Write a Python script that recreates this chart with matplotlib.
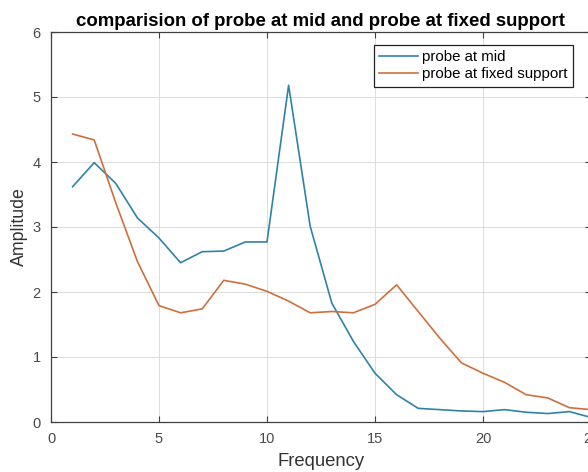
import matplotlib
matplotlib.use("Agg")
import matplotlib.pyplot as plt

freq = list(range(1, 26))
probe_mid = [3.62, 3.99, 3.67, 3.14, 2.83, 2.45, 2.62, 2.63, 2.77, 2.77,
             5.18, 3.01, 1.83, 1.24, 0.75, 0.42, 0.21, 0.19, 0.17, 0.16,
             0.19, 0.15, 0.13, 0.16, 0.07]
probe_fixed = [4.43, 4.34, 3.37, 2.47, 1.79, 1.68, 1.74, 2.18, 2.12, 2.01,
               1.86, 1.68, 1.70, 1.68, 1.81, 2.11, 1.70, 1.29, 0.91, 0.75,
               0.61, 0.42, 0.37, 0.22, 0.19]
labels = ["probe at mid", "probe at fixed support"]
title = "comparision of probe at mid and probe at fixed support"

plt.rcParams['font.family'] = ['Liberation Sans', 'DejaVu Sans']

W, H = 588, 472
fig = plt.figure(figsize=(W / 100, H / 100), dpi=100)
L, R, T, B = 51, 591, 32, 422
ax = fig.add_axes([L / W, 1 - B / H, (R - L) / W, (B - T) / H])

ax.plot(freq, probe_mid, color="#2f82a8", lw=1.2, label=labels[0])
ax.plot(freq, probe_fixed, color="#cf6f3c", lw=1.2, label=labels[1])

ax.set_xlim(0, 25)
ax.set_ylim(0, 6)
ax.set_xticks([0, 5, 10, 15, 20, 25])
ax.set_yticks([0, 1, 2, 3, 4, 5, 6])
ax.grid(True, color="#dcdcdc", lw=0.7)
ax.set_axisbelow(True)
ax.tick_params(direction="in", length=4, width=0.8, top=True, right=True,
               colors="#404040", labelsize=10.5, labelcolor="#4a4a4a", pad=7.5)
for s in ax.spines.values():
    s.set_color("#404040")
    s.set_linewidth(0.9)

ax.set_title(title, fontsize=13.4, fontweight="bold", pad=4)
ax.set_xlabel("Frequency", fontsize=13.3, color="#333333", labelpad=5)
ax.set_ylabel("Amplitude", fontsize=12.8, color="#333333", labelpad=3)

leg = ax.legend(loc="upper right", bbox_to_anchor=(573 / W, 1 - 45 / H),
                bbox_transform=fig.transFigure, borderaxespad=0,
                fontsize=10.8, frameon=True, fancybox=False, framealpha=1,
                edgecolor="#222222", handlelength=2.6, handletextpad=0.3,
                borderpad=0.35, labelspacing=0.2)
leg.get_frame().set_linewidth(0.9)

fig.savefig("out.png", dpi=100)
